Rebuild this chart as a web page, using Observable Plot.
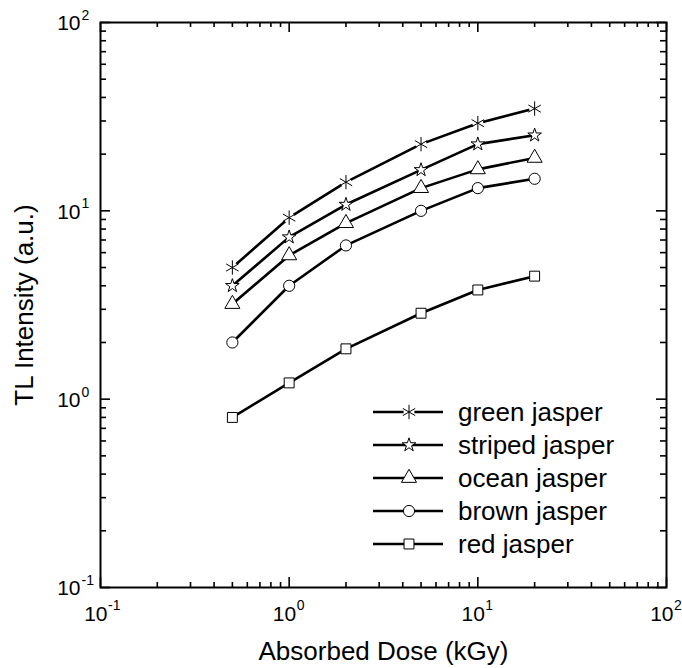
<!DOCTYPE html>
<html><head><meta charset="utf-8">
<script src="https://cdn.jsdelivr.net/npm/d3@7"></script>
<script src="https://cdn.jsdelivr.net/npm/@observablehq/plot@0.6"></script>
<style>body{margin:0;background:#fff} svg{display:block}</style>
</head><body><div id="chart"></div>
<script>
// ---- data ----
const doses = [0.5, 1, 2, 5, 10, 20];
const seriesNames = ["green jasper", "striped jasper", "ocean jasper", "brown jasper", "red jasper"];
const greenJasper   = [5.0, 9.2, 14.2, 22.6, 29.2, 34.9];
const stripedJasper = [4.0, 7.25, 10.8, 16.5, 22.6, 25.2];
const oceanJasper   = [3.2, 5.8, 8.6, 13.2, 16.6, 19.1];
const brownJasper   = [2.0, 4.0, 6.55, 10.0, 13.2, 14.8];
const redJasper     = [0.80, 1.22, 1.85, 2.86, 3.8, 4.5];
const majorTicks = [0.1, 1, 10, 100];
const tickExponents = ["-1", "0", "1", "2"];
const xTitle = "Absorbed Dose (kGy)";
const yTitle = "TL Intensity (a.u.)";

// ---- build ----
const seriesValues = [greenJasper, stripedJasper, oceanJasper, brownJasper, redJasper];
const symbolTypes = [d3.symbolAsterisk, d3.symbolStar, d3.symbolTriangle, d3.symbolCircle, d3.symbolSquare];
const symbolR = [6.8, 4.3, 5.6, 5.6, 5.6];
const data = seriesNames.flatMap((name, i) => doses.map((d, j) => ({series: name, dose: d, value: seriesValues[i][j]})));
const minorTicks = [];
for (const dec of [0.1, 1, 10]) for (let k = 2; k <= 9; k++) minorTicks.push(+(dec * k).toPrecision(3));

const W = 682, H = 668, mL = 100, mR = 16, mT = 22, mB = 81;
const innerH = H - mT - mB, innerW = W - mL - mR;
const font = "'Liberation Sans', Arial, Helvetica, sans-serif";

function legendMark(index, scales, values, dims) {
  const g = d3.create("svg:g");
  const x0 = dims.marginLeft + 273, x1 = dims.marginLeft + 343, xm = dims.marginLeft + 309, xt = dims.marginLeft + 358;
  seriesNames.forEach((name, i) => {
    const y = dims.marginTop + 390 + i * 33;
    g.append("line").attr("x1", x0).attr("x2", x1).attr("y1", y).attr("y2", y)
      .attr("stroke", "black").attr("stroke-width", 2.6);
    if (i === 0) g.append("circle").attr("cx", xm).attr("cy", y).attr("r", 5.5).attr("fill", "white");
    g.append("path").attr("transform", `translate(${xm},${y})`)
      .attr("d", d3.symbol(symbolTypes[i], Math.PI * symbolR[i] * symbolR[i])())
      .attr("fill", i === 0 ? "none" : "white").attr("stroke", "black").attr("stroke-width", 1);
    g.append("text").attr("x", xt).attr("y", y).attr("dy", "0.35em")
      .attr("text-anchor", "start")
      .attr("font-size", 26).attr("font-family", font).attr("fill", "black").text(name);
  });
  return g.node();
}

const seriesMarks = seriesNames.flatMap((name, i) => {
  const rows = data.filter(d => d.series === name);
  const marks = [];
  if (i === 0) marks.push(Plot.dot(rows, {x: "dose", y: "value", r: 5.5, fill: "white", stroke: "none"}));
  marks.push(Plot.dot(rows, {x: "dose", y: "value", symbol: symbolTypes[i], r: symbolR[i],
    fill: i === 0 ? "none" : "white", stroke: "black", strokeWidth: 1}));
  return marks;
});

const chart = Plot.plot({
  width: W, height: H,
  marginLeft: mL, marginRight: mR, marginTop: mT, marginBottom: mB,
  style: {fontFamily: font, background: "white", color: "black", overflow: "visible"},
  x: {type: "log", domain: [0.1, 100], axis: null},
  y: {type: "log", domain: [0.1, 100], axis: null},
  marks: [
    // ticks (inward, on all four sides)
    Plot.ruleX(majorTicks, {x: d => d, insetTop: innerH - 10, strokeWidth: 1.6}),
    Plot.ruleX(majorTicks, {x: d => d, insetBottom: innerH - 10, strokeWidth: 1.6}),
    Plot.ruleX(minorTicks, {x: d => d, insetTop: innerH - 5, strokeWidth: 1.6}),
    Plot.ruleX(minorTicks, {x: d => d, insetBottom: innerH - 5, strokeWidth: 1.6}),
    Plot.ruleY(majorTicks, {y: d => d, insetRight: innerW - 10, strokeWidth: 1.6}),
    Plot.ruleY(majorTicks, {y: d => d, insetLeft: innerW - 10, strokeWidth: 1.6}),
    Plot.ruleY(minorTicks, {y: d => d, insetRight: innerW - 6, strokeWidth: 1.6}),
    Plot.ruleY(minorTicks, {y: d => d, insetLeft: innerW - 6, strokeWidth: 1.6}),
    Plot.frame({stroke: "black", strokeWidth: 2}),
    // tick labels
    Plot.text(majorTicks, {x: d => d, text: () => "10", frameAnchor: "bottom", textAnchor: "end", lineAnchor: "middle", dx: 7, dy: 27, fontSize: 21}),
    Plot.text(majorTicks, {x: d => d, text: (d, i) => tickExponents[i], frameAnchor: "bottom", textAnchor: "start", lineAnchor: "middle", dx: 7.5, dy: 18, fontSize: 14}),
    Plot.text(majorTicks, {y: d => d, text: () => "10", frameAnchor: "left", textAnchor: "end", lineAnchor: "middle", dx: -20, dy: 1, fontSize: 21}),
    Plot.text(majorTicks, {y: d => d, text: (d, i) => tickExponents[i], frameAnchor: "left", textAnchor: "start", lineAnchor: "middle", dx: -19, dy: -7, fontSize: 14}),
    // axis titles
    Plot.text([xTitle], {text: d => d, frameAnchor: "bottom", textAnchor: "middle", lineAnchor: "middle", dy: 64, fontSize: 26}),
    Plot.text([yTitle], {text: d => d, frameAnchor: "left", textAnchor: "middle", lineAnchor: "middle", rotate: -90, dx: -76, fontSize: 26}),
    // series
    Plot.line(data, {x: "dose", y: "value", z: "series", stroke: "black", strokeWidth: 2.6}),
    ...seriesMarks,
    legendMark
  ]
});
document.getElementById("chart").appendChild(chart);
</script>
</body></html>
